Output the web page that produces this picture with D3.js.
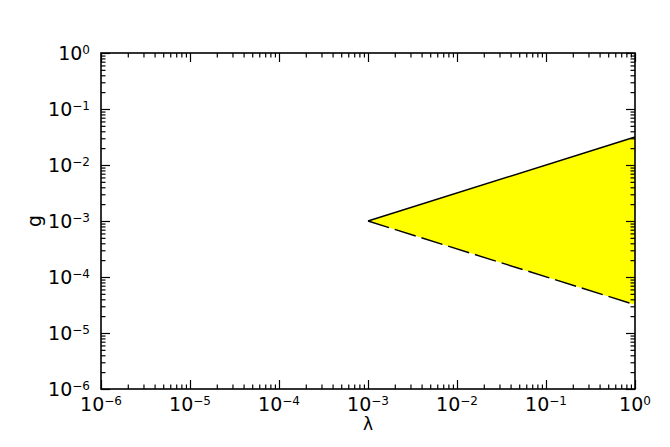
<!DOCTYPE html>
<html>
<head>
<meta charset="utf-8">
<script src="https://cdn.jsdelivr.net/npm/d3@7/dist/d3.min.js"></script>
<style>
body { margin: 0; background: #fff; }
text { font-family: "DejaVu Sans", sans-serif; fill: #000; }
</style>
</head>
<body>
<div id="root"></div>
<script>
// axis ranges (log10 decades)
var xDomain = [1e-6, 1];
var yDomain = [1e-6, 1];
var xExps = [-6, -5, -4, -3, -2, -1, 0];
var yExps = [-6, -5, -4, -3, -2, -1, 0];

// allowed region: solid upper edge, dashed lower edge
var upperLam = [1e-3, 1];
var upperG = [1e-3, 0.0316];
var lowerLam = [1e-3, 1];
var lowerG = [1e-3, 3.2e-5];

var width = 670, height = 447;
var margin = {top: 53, right: 35, bottom: 58, left: 101};
var w = width - margin.left - margin.right,
    h = height - margin.top - margin.bottom;

var svg = d3.select("#root").append("svg")
    .attr("width", width)
    .attr("height", height);

var chart = svg.append("g")
    .attr("transform", "translate(" + [margin.left, margin.top] + ")");

var x = d3.scaleLog().domain(xDomain).range([0, w]);
var y = d3.scaleLog().domain(yDomain).range([h, 0]);

function minors(exps) {
    var out = [];
    exps.forEach(function(e) {
        if (e === exps[exps.length - 1]) return;
        for (var m = 2; m <= 9; ++m) out.push(m * Math.pow(10, e));
    });
    return out;
}
function majors(exps) {
    return exps.map(function(e) { return Math.pow(10, e); });
}

var line = d3.line()
    .x(function(d) { return x(d[0]); })
    .y(function(d) { return y(d[1]); });

// filled region
var poly = upperLam.map(function(l, i) { return [l, upperG[i]]; })
    .concat(lowerLam.map(function(l, i) { return [l, lowerG[i]]; }).reverse());

chart.append("path")
    .datum(poly)
    .attr("fill", "#ffff00")
    .attr("stroke", "none")
    .attr("d", line);

chart.append("path")
    .datum(upperLam.map(function(l, i) { return [l, upperG[i]]; }))
    .attr("fill", "none")
    .attr("stroke", "#000")
    .attr("stroke-width", 1.4)
    .attr("d", line);

chart.append("path")
    .datum(lowerLam.map(function(l, i) { return [l, lowerG[i]]; }))
    .attr("fill", "none")
    .attr("stroke", "#000")
    .attr("stroke-width", 1.4)
    .attr("stroke-dasharray", "22,6")
    .attr("d", line);

// ticks on all four sides, pointing inward
function tickAxis(axis, vals, size, tr) {
    var g = chart.append("g")
        .attr("transform", tr)
        .call(axis.tickValues(vals).tickSize(-size).tickFormat(""));
    g.select(".domain").remove();
    g.selectAll("line").attr("stroke", "#000").attr("stroke-width", 1.2);
    return g;
}

tickAxis(d3.axisBottom(x), majors(xExps), 9, "translate(0," + h + ")");
tickAxis(d3.axisBottom(x), minors(xExps), 4.5, "translate(0," + h + ")");
tickAxis(d3.axisTop(x), majors(xExps), 9, "translate(0,0)");
tickAxis(d3.axisTop(x), minors(xExps), 4.5, "translate(0,0)");
tickAxis(d3.axisLeft(y), majors(yExps), 9, "translate(0,0)");
tickAxis(d3.axisLeft(y), minors(yExps), 4.5, "translate(0,0)");
tickAxis(d3.axisRight(y), majors(yExps), 9, "translate(" + w + ",0)");
tickAxis(d3.axisRight(y), minors(yExps), 4.5, "translate(" + w + ",0)");

// frame
chart.append("rect")
    .attr("width", w)
    .attr("height", h)
    .attr("fill", "none")
    .attr("stroke", "#000")
    .attr("stroke-width", 1.6);

// tick labels as 10^n
function powLabel(sel) {
    sel.append("tspan").text("10");
    sel.append("tspan")
        .attr("dy", -6)
        .attr("font-size", 12)
        .text(function(d) { return (d < 0 ? "\u2212" : "") + Math.abs(d); });
}

chart.append("g").selectAll("text")
    .data(xExps).enter()
    .append("text")
    .attr("x", function(d) { return x(Math.pow(10, d)); })
    .attr("y", h + 22)
    .attr("text-anchor", "middle")
    .attr("font-size", 19)
    .call(powLabel);

chart.append("g").selectAll("text")
    .data(yExps).enter()
    .append("text")
    .attr("x", -11)
    .attr("y", function(d) { return y(Math.pow(10, d)) + 7; })
    .attr("text-anchor", "end")
    .attr("font-size", 19)
    .call(powLabel);

// axis titles
chart.append("text")
    .attr("x", w / 2)
    .attr("y", h + 41)
    .attr("text-anchor", "middle")
    .attr("font-size", 17)
    .text("\u03bb");

chart.append("text")
    .attr("transform", "translate(" + [41 - margin.left, y(1e-3)] + ") rotate(-90)")
    .attr("text-anchor", "middle")
    .attr("font-size", 19)
    .text("g");
</script>
</body>
</html>
